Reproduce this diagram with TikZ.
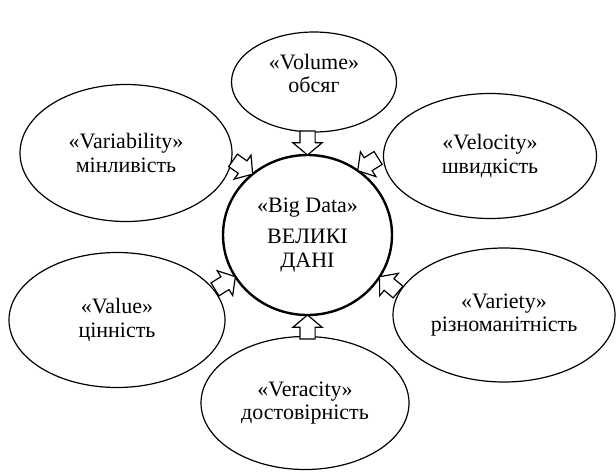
\documentclass[tikz,border=0pt]{standalone}
\usepackage{fontspec}
\setmainfont{Liberation Serif}
\usetikzlibrary{shapes.geometric,shapes.arrows}

\tikzset{
  vbubble/.style={draw=black,ellipse,line width=0.9pt,align=center},
  vcore/.style={draw=black,ellipse,line width=1.8pt,align=center,
    minimum width=126.75pt,minimum height=120pt},
  vpush/.style={draw=black,fill=white,single arrow,line width=0.9pt,
    inner xsep=0pt,inner ysep=5.25pt,single arrow head extend=5.25pt,
    single arrow tip angle=100,minimum height=18pt,minimum width=0pt,
    anchor=tip}
}

\begin{document}
\begin{tikzpicture}[y=0.75pt, x=0.75pt, yscale=-1, inner sep=0pt, outer sep=0pt,
  font=\fontsize{16.5}{17.5}\selectfont]
\useasboundingbox (0,0) rectangle (616,472);

  % central circle
  \node[vcore] (bigdata) at (307.5,235) {«Big Data»\\[6pt]ВЕЛИКІ\\ДАНІ};

  % the six V's
  \node[vbubble,minimum width=123.75pt,minimum height=75pt] (volume)
    at (314,82) {«Volume»\\обсяг\rule[-13pt]{0pt}{0pt}};
  \node[vbubble,minimum width=159pt,minimum height=102.75pt] (variability)
    at (126,153) {«Variability»\\мінливість};
  \node[vbubble,minimum width=159.75pt,minimum height=93.75pt] (velocity)
    at (490,156) {«Velocity»\\швидкість};
  \node[vbubble,minimum width=162pt,minimum height=101.25pt] (value)
    at (117,320) {«Value»\\цінність};
  \node[vbubble,minimum width=166.5pt,minimum height=100.5pt] (variety)
    at (504,315) {«Variety»\\різноманітність};
  \node[vbubble,minimum width=156pt,minimum height=99.75pt] (veracity)
    at (305,403) {«Veracity»\\достовірність};

  % hollow arrows into the circle
  \node[vpush,rotate=-90] (pvolume) at (bigdata.90) {};
  \node[vpush,rotate=-35] (pvariability) at (bigdata.132) {};
  \node[vpush,rotate=-148] (pvelocity) at (bigdata.52) {};
  \node[vpush,rotate=32] (pvalue) at (bigdata.210) {};
  \node[vpush,rotate=140] (pvariety) at (bigdata.330) {};
  \node[vpush,rotate=90] (pveracity) at (bigdata.270) {};

\end{tikzpicture}
\end{document}
